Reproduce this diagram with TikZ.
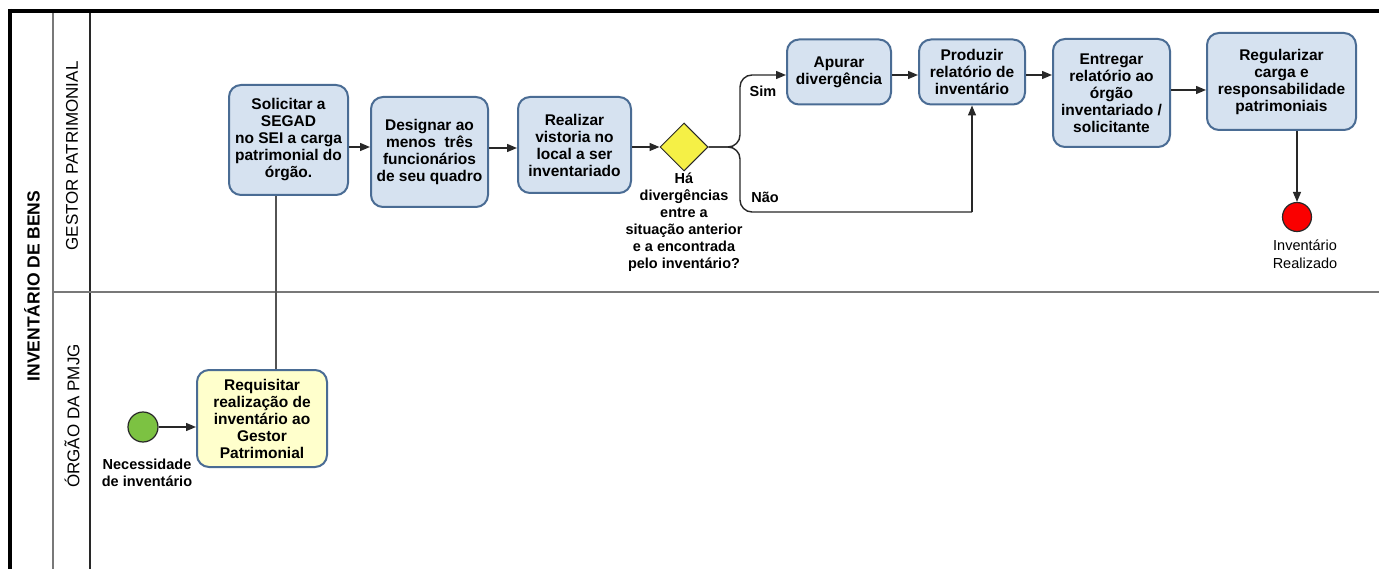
\documentclass[tikz,border=0pt]{standalone}
\usepackage{fontspec}
\setmainfont{Liberation Sans}
\usetikzlibrary{arrows.meta,shapes.geometric,calc}

\definecolor{taskfill}{RGB}{214,226,240}
\definecolor{taskline}{RGB}{74,108,148}
\definecolor{reqfill}{RGB}{255,255,204}
\definecolor{gatefill}{RGB}{245,240,70}
\definecolor{startfill}{RGB}{124,194,66}
\definecolor{endfill}{RGB}{250,0,0}
\definecolor{lanegray}{RGB}{120,120,120}
\definecolor{flowgray}{RGB}{40,40,40}

\tikzset{
  task/.style={draw=taskline, line width=2pt, fill=taskfill, rounded corners=12pt,
    align=center, font=\fontsize{15.5}{17}\selectfont\bfseries, inner sep=2pt},
  reqtask/.style={task, fill=reqfill},
  gateway/.style={diamond, draw=flowgray, line width=1pt, fill=gatefill,
    minimum width=48pt, minimum height=48pt, inner sep=0pt},
  startev/.style={circle, draw=flowgray, line width=1.2pt, fill=startfill, minimum size=30pt, inner sep=0pt},
  endev/.style={circle, draw=flowgray, line width=1.2pt, fill=endfill, minimum size=29pt, inner sep=0pt},
  flow/.style={draw=flowgray, line width=1.4pt, -{Triangle[length=10pt,width=8pt]}},
  assoc/.style={draw=flowgray!80, line width=1.6pt},
  evlabel/.style={align=center, font=\fontsize{14.5}{17}\selectfont\bfseries, inner sep=0pt},
  lanelabel/.style={rotate=90, font=\fontsize{17}{17}\selectfont},
}

\begin{document}
\begin{tikzpicture}[x=1pt, y=-1pt]
\useasboundingbox (0,0) rectangle (1379,569);
\fill[white] (0,0) rectangle (1379,569);

% pool frame and lanes
\draw[line width=4pt] (8,11) -- (1379,11);
\draw[line width=4pt] (10,9) -- (10,569);
\draw[lanegray, line width=2pt] (53,13) -- (53,569);
\draw[flowgray, line width=1.5pt] (90,13) -- (90,569);
\draw[lanegray, line width=2pt] (53,292) -- (1379,292);

\node[lanelabel, font=\fontsize{17.5}{17.5}\selectfont\bfseries] (pool) at (32,286) {INVENTÁRIO DE BENS};
\node[lanelabel] (lane1) at (72,156) {GESTOR PATRIMONIAL};
\node[lanelabel] (lane2) at (72,416) {ÓRGÃO DA PMJG};

% lane 1: gestor patrimonial
\node[task, minimum width=119pt, minimum height=110pt] (solicitar) at (288.5,140)
  {Solicitar a\\SEGAD\\no SEI a carga\\patrimonial do\\órgão.};
\node[task, minimum width=117pt, minimum height=110pt] (designar) at (429.5,152)
  {Designar ao\\menos\ \ três\\funcionários\\de seu quadro};
\node[task, minimum width=113pt, minimum height=96pt] (realizar) at (574.5,145)
  {Realizar\\vistoria no\\local a ser\\inventariado};
\node[gateway] (gate) at (684,147) {};
\node[evlabel, anchor=north] (gatelbl) at (684,173)
  {Há\\divergências\\entre a\\situação anterior\\e a encontrada\\pelo inventário?};
\node[task, minimum width=104pt, minimum height=65pt] (apurar) at (839,72)
  {Apurar\\divergência};
\node[task, minimum width=106pt, minimum height=65pt] (produzir) at (972,72)
  {Produzir\\relatório de\\inventário};
\node[task, minimum width=117pt, minimum height=108pt] (entregar) at (1111.5,93)
  {Entregar\\relatório ao\\órgão\\inventariado /\\solicitante};
\node[task, minimum width=149pt, minimum height=97pt] (regularizar) at (1281.5,81.5)
  {Regularizar\\carga e\\responsabilidade\\patrimoniais};
\node[endev] (fim) at (1297,217) {};
\node[evlabel, font=\fontsize{14.5}{18}\selectfont, anchor=north] (fimlbl) at (1305,240)
  {Inventário\\Realizado};

% lane 2: orgao da PMJG
\node[startev] (inicio) at (143,427) {};
\node[evlabel, anchor=north] (iniciolbl) at (147,459) {Necessidade\\de inventário};
\node[reqtask, minimum width=130pt, minimum height=97pt] (requisitar) at (262,418.5)
  {Requisitar\\realização de\\inventário ao\\Gestor\\Patrimonial};

% connectors
\coordinate (assocx) at (276,0);
\draw[flow] (inicio) -- (requisitar.west |- inicio);
\draw[assoc] (requisitar.north -| assocx) -- (solicitar.south -| assocx);
\draw[flow] (solicitar.east |- 0,147) -- (designar.west |- 0,147);
\draw[flow] (designar.east |- 0,148) -- (realizar.west |- 0,148);
\draw[flow] (realizar.east |- gate) -- (gate.west);

\coordinate (split) at (740,147);
\coordinate (naoturn) at (972,212);
\draw[flow, rounded corners=12pt] (gate.east) -- (split) |- (apurar.west |- 0,75);
\draw[draw=flowgray, line width=1.4pt, rounded corners=12pt] (gate.east) -- (split) |- (naoturn);
\draw[flow] (naoturn) -- (produzir.south);
\node[font=\fontsize{14.5}{14.5}\selectfont\bfseries] (sim) at (763,91) {Sim};
\node[font=\fontsize{14.5}{14.5}\selectfont\bfseries] (nao) at (765,197) {Não};

\draw[flow] (apurar.east |- 0,75) -- (produzir.west |- 0,75);
\draw[flow] (produzir.east |- 0,75) -- (entregar.west |- 0,75);
\draw[flow] (entregar.east |- 0,90) -- (regularizar.west |- 0,90);
\draw[flow] (regularizar.south -| fim) -- (fim.north);
\end{tikzpicture}
\end{document}
